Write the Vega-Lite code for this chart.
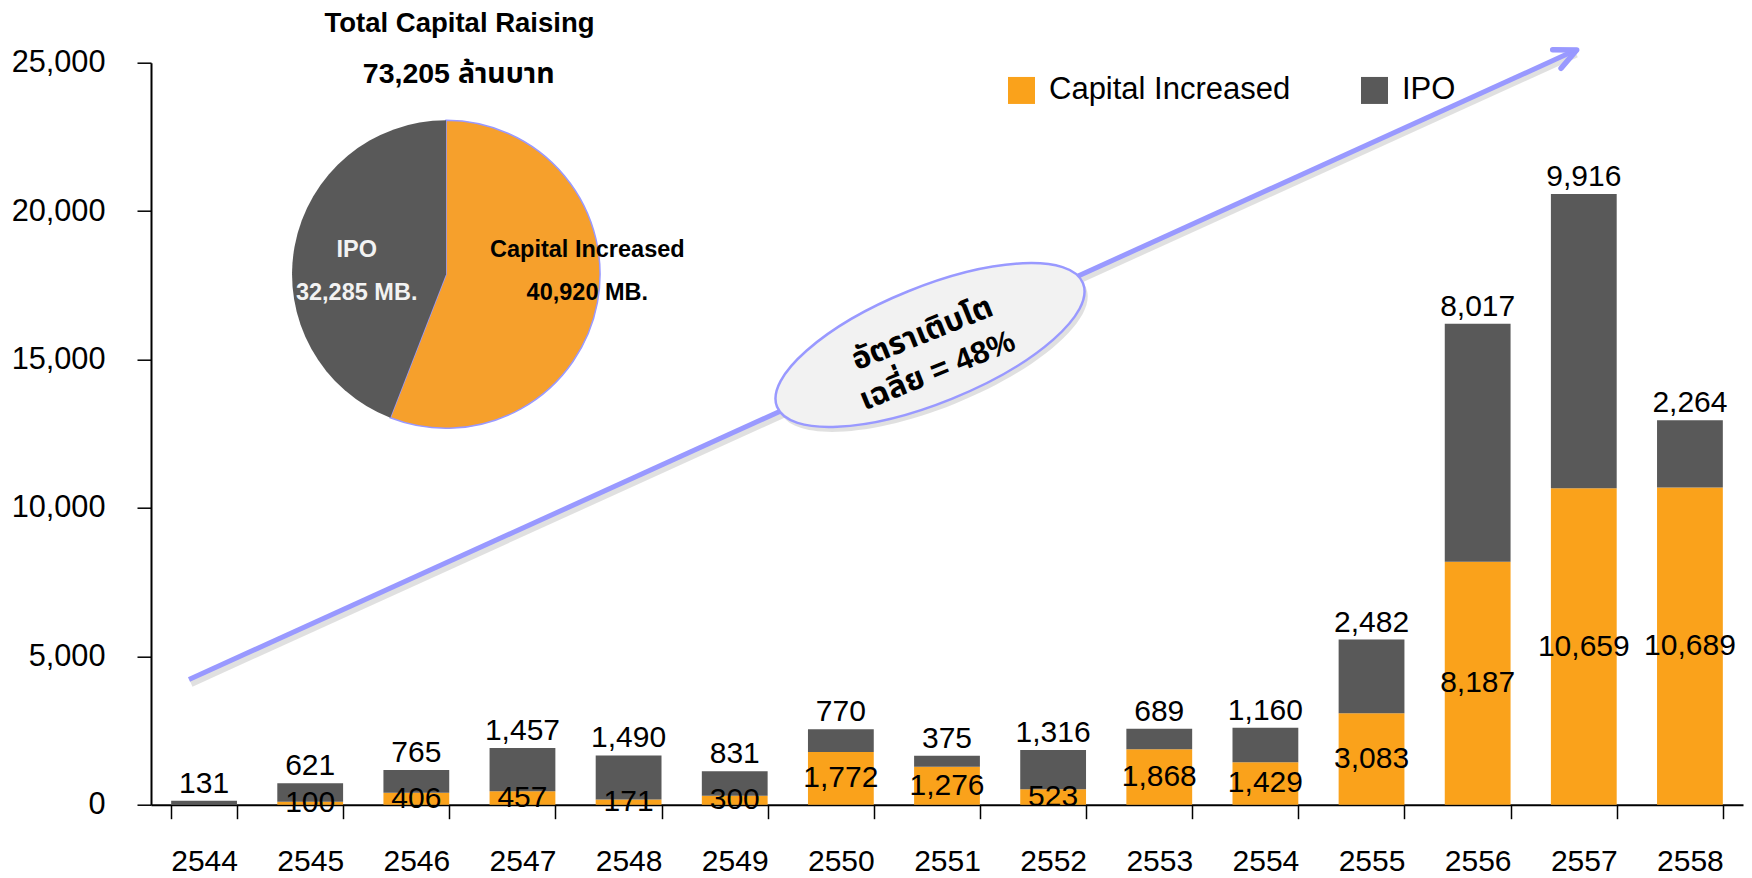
{
  "$schema": "https://vega.github.io/schema/vega-lite/v6.json",
  "width": 1592,
  "height": 742,
  "autosize": {"type": "none"},
  "padding": {"left": 151, "top": 62.7, "right": 9, "bottom": 73.3},
  "background": "white",
  "config": {"view": {"stroke": null}, "font": "Liberation Sans"},
  "data": {
    "values": [
      {"year": "2544", "type": "IPO", "value": 131},
      {"year": "2545", "type": "Capital Increased", "value": 100},
      {"year": "2545", "type": "IPO", "value": 621},
      {"year": "2546", "type": "Capital Increased", "value": 406},
      {"year": "2546", "type": "IPO", "value": 765},
      {"year": "2547", "type": "Capital Increased", "value": 457},
      {"year": "2547", "type": "IPO", "value": 1457},
      {"year": "2548", "type": "Capital Increased", "value": 171},
      {"year": "2548", "type": "IPO", "value": 1490},
      {"year": "2549", "type": "Capital Increased", "value": 300},
      {"year": "2549", "type": "IPO", "value": 831},
      {"year": "2550", "type": "Capital Increased", "value": 1772},
      {"year": "2550", "type": "IPO", "value": 770},
      {"year": "2551", "type": "Capital Increased", "value": 1276},
      {"year": "2551", "type": "IPO", "value": 375},
      {"year": "2552", "type": "Capital Increased", "value": 523},
      {"year": "2552", "type": "IPO", "value": 1316},
      {"year": "2553", "type": "Capital Increased", "value": 1868},
      {"year": "2553", "type": "IPO", "value": 689},
      {"year": "2554", "type": "Capital Increased", "value": 1429},
      {"year": "2554", "type": "IPO", "value": 1160},
      {"year": "2555", "type": "Capital Increased", "value": 3083},
      {"year": "2555", "type": "IPO", "value": 2482},
      {"year": "2556", "type": "Capital Increased", "value": 8187},
      {"year": "2556", "type": "IPO", "value": 8017},
      {"year": "2557", "type": "Capital Increased", "value": 10659},
      {"year": "2557", "type": "IPO", "value": 9916},
      {"year": "2558", "type": "Capital Increased", "value": 10689},
      {"year": "2558", "type": "IPO", "value": 2264}
    ]
  },
  "layer": [
    {
      "mark": {"type": "bar"},
      "encoding": {
        "x": {
          "field": "year", "type": "nominal", "title": null,
          "scale": {"domain": ["2544","2545","2546","2547","2548","2549","2550","2551","2552","2553","2554","2555","2556","2557","2558"], "paddingInner": 0.38, "paddingOuter": 0.19},
          "axis": {
            "labelAngle": 0, "labelFontSize": 30, "labelFont": "Liberation Sans", "labelColor": "#000",
            "labelPadding": 28, "labelBaseline": "top", "tickBand": "extent", "tickSize": 14,
            "tickColor": "#000", "tickWidth": 1.5, "domainColor": "#000", "domainWidth": 2
          }
        },
        "y": {
          "field": "value", "type": "quantitative", "stack": "zero", "title": null,
          "scale": {"domain": [0, 25000], "nice": false},
          "axis": {
            "values": [0, 5000, 10000, 15000, 20000, 25000], "format": ",.0f", "formatType": "number", "grid": false,
            "labelFontSize": 30.7, "labelFont": "Liberation Sans", "labelColor": "#000", "labelPadding": 32,
            "tickSize": 14, "tickColor": "#000", "tickWidth": 1.5, "domainColor": "#000", "domainWidth": 2
          }
        },
        "color": {
          "field": "type", "type": "nominal",
          "scale": {"domain": ["Capital Increased", "IPO"], "range": ["#FAA21B", "#595959"]},
          "legend": {
            "orient": "none", "legendX": 855, "legendY": 12, "direction": "horizontal", "title": null,
            "symbolType": "square", "symbolSize": 729, "symbolStrokeWidth": 0, "labelFontSize": 31,
            "labelFont": "Liberation Sans", "labelColor": "#000", "labelOffset": 12, "columnPadding": 68,
            "padding": 0, "labelLimit": 400
          }
        },
        "order": {"field": "type", "sort": "ascending"}
      }
    },
    {
      "mark": {"type": "text", "baseline": "alphabetic", "dy": -8, "fontSize": 30, "font": "Liberation Sans", "fill": "#000"},
      "encoding": {
        "x": {"field": "year", "type": "nominal", "scale": {"domain": ["2544","2545","2546","2547","2548","2549","2550","2551","2552","2553","2554","2555","2556","2557","2558"], "paddingInner": 0.38, "paddingOuter": 0.19}, "axis": null},
        "y": {"field": "value", "type": "quantitative", "stack": "zero", "scale": {"domain": [0, 25000], "nice": false}, "axis": null},
        "detail": {"field": "type"},
        "order": {"field": "type", "sort": "ascending"},
        "text": {"field": "value", "type": "quantitative", "format": ","},
        "opacity": {"condition": {"test": "datum.type === 'IPO'", "value": 1}, "value": 0}
      }
    },
    {
      "transform": [{"filter": "datum.type === 'Capital Increased'"}],
      "mark": {"type": "text", "baseline": "middle", "fontSize": 30, "font": "Liberation Sans", "fill": "#000"},
      "encoding": {
        "x": {"field": "year", "type": "nominal", "scale": {"domain": ["2544","2545","2546","2547","2548","2549","2550","2551","2552","2553","2554","2555","2556","2557","2558"], "paddingInner": 0.38, "paddingOuter": 0.19}, "axis": null},
        "y": {"field": "value", "type": "quantitative", "scale": {"domain": [0, 50000], "nice": false}, "axis": null},
        "text": {"field": "value", "type": "quantitative", "format": ","}
      }
    },
    {
      "data": {"values": [{}]},
      "mark": {"type": "rule", "stroke": "#000", "strokeOpacity": 0.12, "strokeWidth": 7},
      "encoding": {
        "x": {"datum": 0.377, "type": "quantitative", "scale": {"domain": [0, 15], "nice": false, "zero": false}, "axis": null},
        "x2": {"datum": 13.43},
        "y": {"datum": 4083, "type": "quantitative", "scale": {"domain": [0, 25000], "nice": false}, "axis": null},
        "y2": {"datum": 25290}
      }
    },
    {
      "data": {"values": [{}]},
      "mark": {"type": "rule", "stroke": "#9999FF", "strokeWidth": 5},
      "encoding": {
        "x": {"datum": 0.358, "type": "quantitative", "scale": {"domain": [0, 15], "nice": false, "zero": false}, "axis": null},
        "x2": {"datum": 13.41},
        "y": {"datum": 4218, "type": "quantitative", "scale": {"domain": [0, 25000], "nice": false}, "axis": null},
        "y2": {"datum": 25400}
      }
    },
    {
      "data": {"values": [{}]},
      "mark": {
        "type": "point", "shape": "M -0.906 -0.423 L 0 0 L -0.906 0.423", "size": 2304, "filled": false,
        "stroke": "#9999FF", "strokeWidth": 5.5, "strokeJoin": "round", "strokeCap": "round", "opacity": 1, "angle": 335.6
      },
      "encoding": {
        "x": {"datum": 13.433, "type": "quantitative", "scale": {"domain": [0, 15], "nice": false, "zero": false}, "axis": null},
        "y": {"datum": 25425, "type": "quantitative", "scale": {"domain": [0, 25000], "nice": false}, "axis": null}
      }
    },
    {
      "data": {"values": [{}]},
      "mark": {
        "type": "point",
        "shape": "M -1 0 C -1 -0.1941 -0.5523 -0.3515 0 -0.3515 C 0.5523 -0.3515 1 -0.1941 1 0 C 1 0.1941 0.5523 0.3515 0 0.3515 C -0.5523 0.3515 -1 0.1941 -1 0 Z",
        "size": 108900, "filled": true, "fill": "#000", "opacity": 0.12, "strokeWidth": 0, "angle": 338
      },
      "encoding": {
        "x": {"datum": 7.37, "type": "quantitative", "scale": {"domain": [0, 15], "nice": false, "zero": false}, "axis": null},
        "y": {"datum": 15320, "type": "quantitative", "scale": {"domain": [0, 25000], "nice": false}, "axis": null}
      }
    },
    {
      "data": {"values": [{}]},
      "mark": {
        "type": "point",
        "shape": "M -1 0 C -1 -0.1941 -0.5523 -0.3515 0 -0.3515 C 0.5523 -0.3515 1 -0.1941 1 0 C 1 0.1941 0.5523 0.3515 0 0.3515 C -0.5523 0.3515 -1 0.1941 -1 0 Z",
        "size": 108900, "filled": true, "fill": "#F2F2F2", "stroke": "#9999FF", "strokeWidth": 2.5, "opacity": 1, "angle": 338
      },
      "encoding": {
        "x": {"datum": 7.34, "type": "quantitative", "scale": {"domain": [0, 15], "nice": false, "zero": false}, "axis": null},
        "y": {"datum": 15488, "type": "quantitative", "scale": {"domain": [0, 25000], "nice": false}, "axis": null}
      }
    },
    {
      "data": {"values": [{}]},
      "mark": {
        "type": "text", "align": "center", "baseline": "middle", "angle": 338, "fontSize": 31, "fontWeight": "bold",
        "font": "Liberation Sans, Noto Sans Thai, Loma, Garuda, sans-serif", "fill": "#000", "lineBreak": "\n", "lineHeight": 40
      },
      "encoding": {
        "x": {"datum": 7.27, "type": "quantitative", "scale": {"domain": [0, 15], "nice": false, "zero": false}, "axis": null},
        "y": {"datum": 15850, "type": "quantitative", "scale": {"domain": [0, 25000], "nice": false}, "axis": null},
        "text": {"value": "อัตราเติบโต\nเฉลี่ย = 48%"}
      }
    },
    {
      "data": {"values": [{"type": "Capital Increased", "value": 40920}, {"type": "IPO", "value": 32285}]},
      "mark": {"type": "arc", "radius": 154, "stroke": "#9999FF"},
      "encoding": {
        "theta": {"field": "value", "type": "quantitative", "stack": true},
        "order": {"field": "type", "sort": "ascending"},
        "fill": {"field": "type", "type": "nominal", "scale": {"domain": ["Capital Increased", "IPO"], "range": ["#F6A02C", "#595959"]}, "legend": null},
        "strokeWidth": {"condition": {"test": "datum.type === 'Capital Increased'", "value": 1.5}, "value": 0},
        "x": {"datum": 2.78, "type": "quantitative", "scale": {"domain": [0, 15], "nice": false, "zero": false}, "axis": null},
        "y": {"datum": 17872, "type": "quantitative", "scale": {"domain": [0, 25000], "nice": false}, "axis": null}
      }
    },
    {
      "data": {"values": [{}]},
      "mark": {"type": "text", "align": "center", "baseline": "middle", "fontSize": 23.5, "fontWeight": "bold", "font": "Liberation Sans", "fill": "#F2F2F2"},
      "encoding": {
        "x": {"datum": 1.938, "type": "quantitative", "scale": {"domain": [0, 15], "nice": false, "zero": false}, "axis": null},
        "y": {"datum": 18688, "type": "quantitative", "scale": {"domain": [0, 25000], "nice": false}, "axis": null},
        "text": {"value": "IPO"}
      }
    },
    {
      "data": {"values": [{}]},
      "mark": {"type": "text", "align": "center", "baseline": "middle", "fontSize": 23.5, "fontWeight": "bold", "font": "Liberation Sans", "fill": "#F2F2F2"},
      "encoding": {
        "x": {"datum": 1.938, "type": "quantitative", "scale": {"domain": [0, 15], "nice": false, "zero": false}, "axis": null},
        "y": {"datum": 17229, "type": "quantitative", "scale": {"domain": [0, 25000], "nice": false}, "axis": null},
        "text": {"value": "32,285 MB."}
      }
    },
    {
      "data": {"values": [{}]},
      "mark": {"type": "text", "align": "center", "baseline": "middle", "fontSize": 23.5, "fontWeight": "bold", "font": "Liberation Sans", "fill": "#000"},
      "encoding": {
        "x": {"datum": 4.111, "type": "quantitative", "scale": {"domain": [0, 15], "nice": false, "zero": false}, "axis": null},
        "y": {"datum": 18688, "type": "quantitative", "scale": {"domain": [0, 25000], "nice": false}, "axis": null},
        "text": {"value": "Capital Increased"}
      }
    },
    {
      "data": {"values": [{}]},
      "mark": {"type": "text", "align": "center", "baseline": "middle", "fontSize": 23.5, "fontWeight": "bold", "font": "Liberation Sans", "fill": "#000"},
      "encoding": {
        "x": {"datum": 4.111, "type": "quantitative", "scale": {"domain": [0, 15], "nice": false, "zero": false}, "axis": null},
        "y": {"datum": 17229, "type": "quantitative", "scale": {"domain": [0, 25000], "nice": false}, "axis": null},
        "text": {"value": "40,920 MB."}
      }
    },
    {
      "data": {"values": [{}]},
      "mark": {"type": "text", "align": "center", "baseline": "alphabetic", "fontSize": 27.5, "fontWeight": "bold", "font": "Liberation Sans", "fill": "#000"},
      "encoding": {
        "x": {"datum": 2.907, "type": "quantitative", "scale": {"domain": [0, 15], "nice": false, "zero": false}, "axis": null},
        "y": {"datum": 26022, "type": "quantitative", "scale": {"domain": [0, 25000], "nice": false}, "axis": null},
        "text": {"value": "Total Capital Raising"}
      }
    },
    {
      "data": {"values": [{}]},
      "mark": {"type": "text", "align": "center", "baseline": "alphabetic", "fontSize": 28.5, "fontWeight": "bold", "font": "Liberation Sans, Noto Sans Thai, Loma, Garuda, sans-serif", "fill": "#000"},
      "encoding": {
        "x": {"datum": 2.899, "type": "quantitative", "scale": {"domain": [0, 15], "nice": false, "zero": false}, "axis": null},
        "y": {"datum": 24324, "type": "quantitative", "scale": {"domain": [0, 25000], "nice": false}, "axis": null},
        "text": {"value": "73,205 ล้านบาท"}
      }
    }
  ],
  "resolve": {"scale": {"x": "independent", "y": "independent"}}
}
